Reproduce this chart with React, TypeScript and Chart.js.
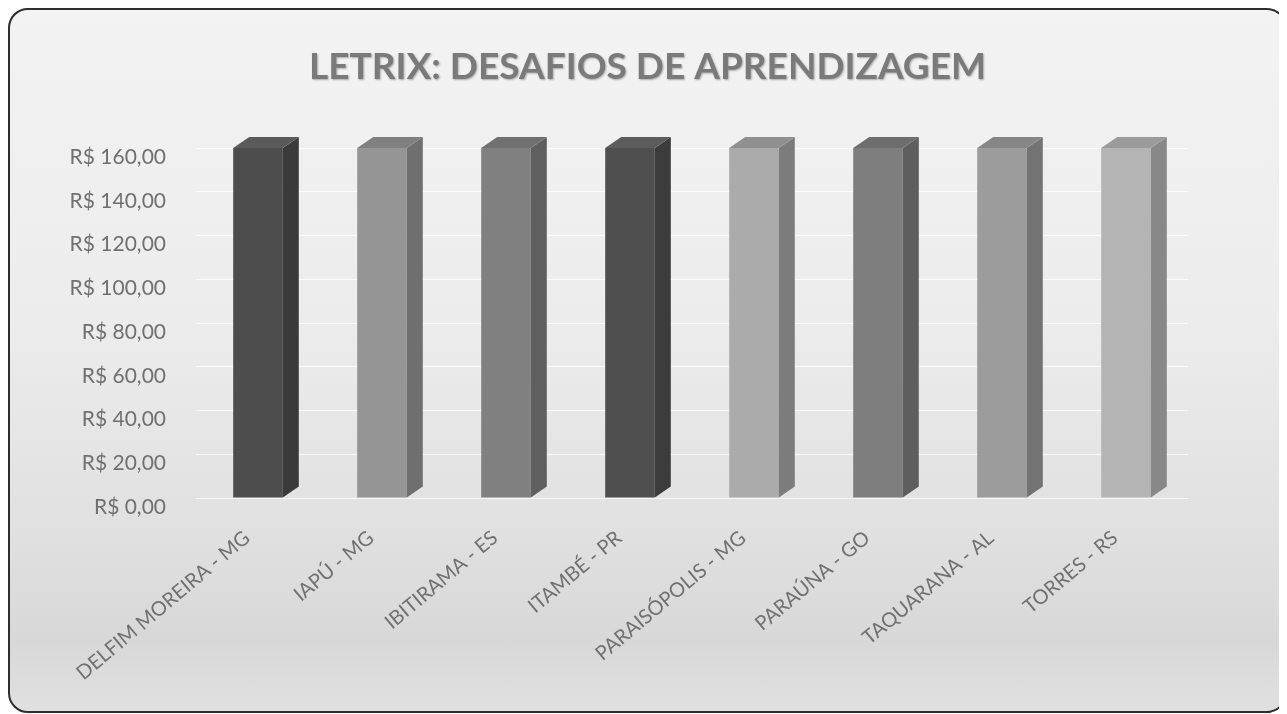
import React, { useEffect, useRef } from "react";
import { Chart, registerables } from "chart.js";

Chart.register(...registerables);

const categories = [
  "DELFIM MOREIRA - MG",
  "IAPÚ - MG",
  "IBITIRAMA - ES",
  "ITAMBÉ - PR",
  "PARAISÓPOLIS - MG",
  "PARAÚNA - GO",
  "TAQUARANA - AL",
  "TORRES - RS",
];
const values = [160, 160, 160, 160, 160, 160, 160, 160];
const frontColors = ["#4d4d4d", "#959595", "#808080", "#4f4f4f", "#ababab", "#7e7e7e", "#9c9c9c", "#b4b4b4"];
const sideColors = ["#3a3a3a", "#6f6f6f", "#5f5f5f", "#3c3c3c", "#7c7c7c", "#5e5e5e", "#737373", "#888888"];
const topColors = ["#5a5a5a", "#808080", "#707070", "#5c5c5c", "#909090", "#6e6e6e", "#868686", "#9b9b9b"];
const yMin = 0;
const yMax = 160;
const yStep = 20;
const title = "LETRIX: DESAFIOS DE APRENDIZAGEM";

const DEPTH_X = 16;
const DEPTH_Y = 11;

const bar3d = {
  id: "bar3d",
  afterDatasetsDraw(chart: any) {
    const ctx = chart.ctx;
    const meta = chart.getDatasetMeta(0);
    meta.data.forEach((bar: any, i: number) => {
      const { x, y, base, width } = bar.getProps(["x", "y", "base", "width"], true);
      const l = x - width / 2;
      const r = x + width / 2;
      ctx.save();
      ctx.fillStyle = sideColors[i];
      ctx.beginPath();
      ctx.moveTo(r, y);
      ctx.lineTo(r + DEPTH_X, y - DEPTH_Y);
      ctx.lineTo(r + DEPTH_X, base - DEPTH_Y);
      ctx.lineTo(r, base);
      ctx.closePath();
      ctx.fill();
      ctx.fillStyle = topColors[i];
      ctx.beginPath();
      ctx.moveTo(l, y);
      ctx.lineTo(l + DEPTH_X, y - DEPTH_Y);
      ctx.lineTo(r + DEPTH_X, y - DEPTH_Y);
      ctx.lineTo(r, y);
      ctx.closePath();
      ctx.fill();
      ctx.restore();
    });
  },
};

const titlePlugin = {
  id: "titleDraw",
  afterDraw(chart: any) {
    const ctx = chart.ctx;
    ctx.save();
    ctx.font = "bold 37px Lato";
    ctx.fillStyle = "#7a7a7a";
    ctx.textAlign = "center";
    ctx.textBaseline = "middle";
    ctx.shadowColor = "rgba(0,0,0,0.3)";
    ctx.shadowBlur = 2;
    ctx.shadowOffsetX = 1;
    ctx.shadowOffsetY = 1;
    ctx.fillText(title, chart.width / 2, 59);
    ctx.restore();
  },
};

export default function App() {
  const ref = useRef<HTMLCanvasElement | null>(null);
  useEffect(() => {
    if (!ref.current) return;
    const chart = new Chart(ref.current, {
      type: "bar",
      data: {
        labels: categories,
        datasets: [
          {
            data: values,
            backgroundColor: frontColors,
            borderWidth: 0,
            categoryPercentage: 1,
            barPercentage: 0.4,
          },
        ],
      },
      options: {
        animation: false,
        responsive: false,
        layout: { padding: { left: 0, right: 99, top: 140, bottom: 0 } },
        plugins: {
          legend: { display: false },
          tooltip: { enabled: false },
          title: { display: false },
        },
        scales: {
          x: {
            grid: { display: false },
            border: { display: false },
            ticks: {
              color: "#707070",
              font: { family: "Lato", size: 20 },
              minRotation: 40,
              maxRotation: 40,
              padding: 20,
              labelOffset: -11,
            },
            afterFit: (s: any) => {
              s.height = 215;
            },
          },
          y: {
            min: yMin,
            max: yMax,
            grid: { color: "rgba(255,255,255,0.75)", drawTicks: false },
            border: { display: false },
            ticks: {
              stepSize: yStep,
              color: "#707070",
              font: { family: "Lato", size: 21 },
              padding: 30,
              labelOffset: 9,
              callback: (v: any) => "R$ " + Number(v).toFixed(2).replace(".", ","),
            },
            afterFit: (s: any) => {
              s.width = 188;
            },
          },
        },
      },
      plugins: [bar3d, titlePlugin],
    });
    return () => chart.destroy();
  }, []);

  return (
    <div style={{ position: "relative", width: 1279, height: 705 }}>
      <div
        style={{
          position: "absolute",
          inset: 0,
          border: "2px solid #2e2e2e",
          borderRadius: 20,
          background: "linear-gradient(180deg, #f3f3f3 0%, #ececec 45%, #e0e0e0 75%, #d8d8d8 90%, #e0e0e0 100%)",
          boxSizing: "border-box",
        }}
      />
      <canvas ref={ref} width={1279} height={705} style={{ position: "absolute", left: 0, top: 0 }} />
    </div>
  );
}
